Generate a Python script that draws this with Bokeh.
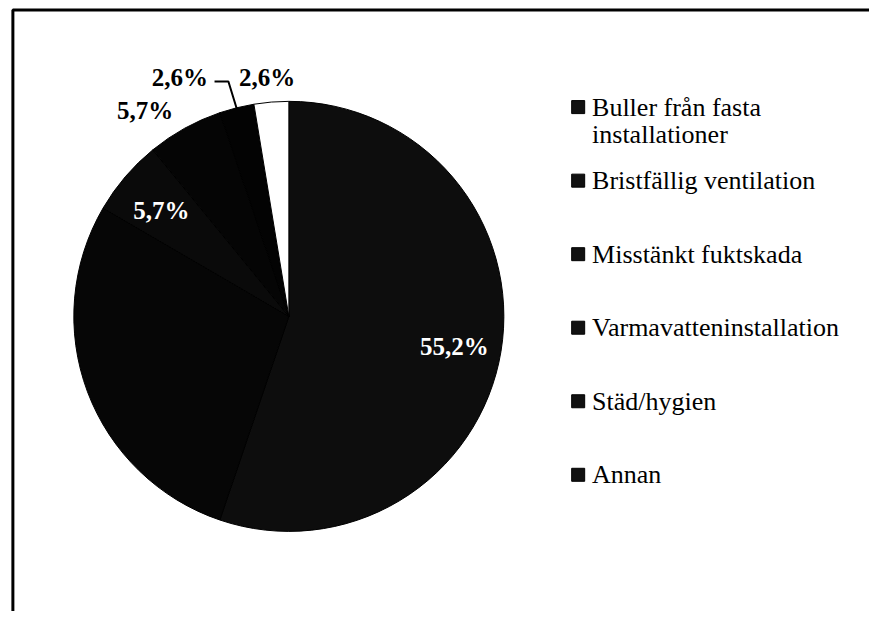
import math
from bokeh.plotting import figure
from bokeh.models import ColumnDataSource, Range1d
from bokeh.embed import file_html
from bokeh.resources import INLINE
from bokeh.core.properties import value

# ---- data ----
categories = ["Buller från fasta\ninstallationer", "Bristfällig ventilation",
              "Misstänkt fuktskada", "Varmavatteninstallation", "Städ/hygien", "Annan"]
shares = [55.2, 28.2, 5.7, 5.7, 2.6, 2.6]
label_mode = ["inside", "none", "inside", "outside", "outside", "outside"]
colors = ["#0d0d0d", "#060606", "#0a0a0a", "#050505", "#030303", "#ffffff"]

# ---- layout (data units = reference pixels) ----
W, H = 869, 611
RW, RH = 877, 619


def to_data(px, py):
    return px, RH - py


p = figure(width=W, height=H, x_range=Range1d(0, RW), y_range=Range1d(0, RH),
           x_axis_type=None, y_axis_type=None, toolbar_location=None,
           output_backend="svg", min_border=0)
p.outline_line_color = None
p.background_fill_color = "white"
p.border_fill_color = "white"

# frame of the scanned chart (left and top border)
fx0, fy0 = to_data(12.5, 9.5)
p.line(x=[fx0, fx0, RW], y=[0, fy0, fy0], line_color="black", line_width=3)

cx, cy = to_data(291, 320)
R = 217
total = sum(shares)
starts, ends, mids = [], [], []
cum = 0.0
for v in shares:
    a0 = cum / total * 2 * math.pi
    cum += v
    a1 = cum / total * 2 * math.pi
    starts.append(math.pi / 2 - a1)
    ends.append(math.pi / 2 - a0)
    mids.append((a0 + a1) / 2)

src = ColumnDataSource(dict(start=starts, end=ends, color=colors, cat=categories))
p.wedge(x=cx, y=cy, radius=R, start_angle="start", end_angle="end",
        fill_color="color", line_color="black", line_width=1, source=src)

pct = [f"{v:.1f}".replace(".", ",") + "%" for v in shares]

# inside labels
in_x, in_y, in_t = [], [], []
for i, m in enumerate(label_mode):
    if m == "inside":
        r = 0.78 * R
        in_x.append(cx + r * math.sin(mids[i]))
        in_y.append(cy + r * math.cos(mids[i]) - 3)
        in_t.append(pct[i])
p.text(x=in_x, y=in_y, text=in_t, text_color="white", text_font=value("Liberation Serif"),
       text_font_size="25px", text_font_style="bold", text_align="center",
       text_baseline="middle")

# outside labels (offsets from pie centre, in px)
outside_offsets = {3: (-145, 209), 4: (-110, 242), 5: (-22, 242)}
out_x, out_y, out_t = [], [], []
for i, (dx, dy) in outside_offsets.items():
    out_x.append(cx + dx)
    out_y.append(cy + dy)
    out_t.append(pct[i])
p.text(x=out_x, y=out_y, text=out_t, text_color="black", text_font=value("Liberation Serif"),
       text_font_size="25px", text_font_style="bold", text_align="center",
       text_baseline="middle")

# leader line for Städ/hygien
i = 4
ex = cx + R * math.sin(mids[i])
ey = cy + R * math.cos(mids[i])
lx, ly = to_data(216, 82)
kx, ky = to_data(230, 82)
p.line(x=[lx, kx, ex], y=[ly, ky, ey], line_color="black", line_width=2)

# legend
leg_x_marker, _ = to_data(583, 0)
leg_x_text, _ = to_data(597, 0)
row0, step, line_h = 108, 74.5, 28
mk_x, mk_y, tx, ty, tt = [], [], [], [], []
for i, c in enumerate(categories):
    py = row0 + i * step
    mk_x.append(leg_x_marker)
    mk_y.append(to_data(0, py)[1])
    for j, line in enumerate(c.split("\n")):
        tx.append(leg_x_text)
        ty.append(to_data(0, py + j * line_h)[1])
        tt.append(line)
p.scatter(x=mk_x, y=mk_y, marker="square", size=13, fill_color="#111111",
          line_color="black", line_width=1)
p.text(x=tx, y=ty, text=tt, text_color="black", text_font=value("Liberation Serif"),
       text_font_size="26px", text_align="left", text_baseline="middle")

open("out.html", "w").write(file_html(p, INLINE))
